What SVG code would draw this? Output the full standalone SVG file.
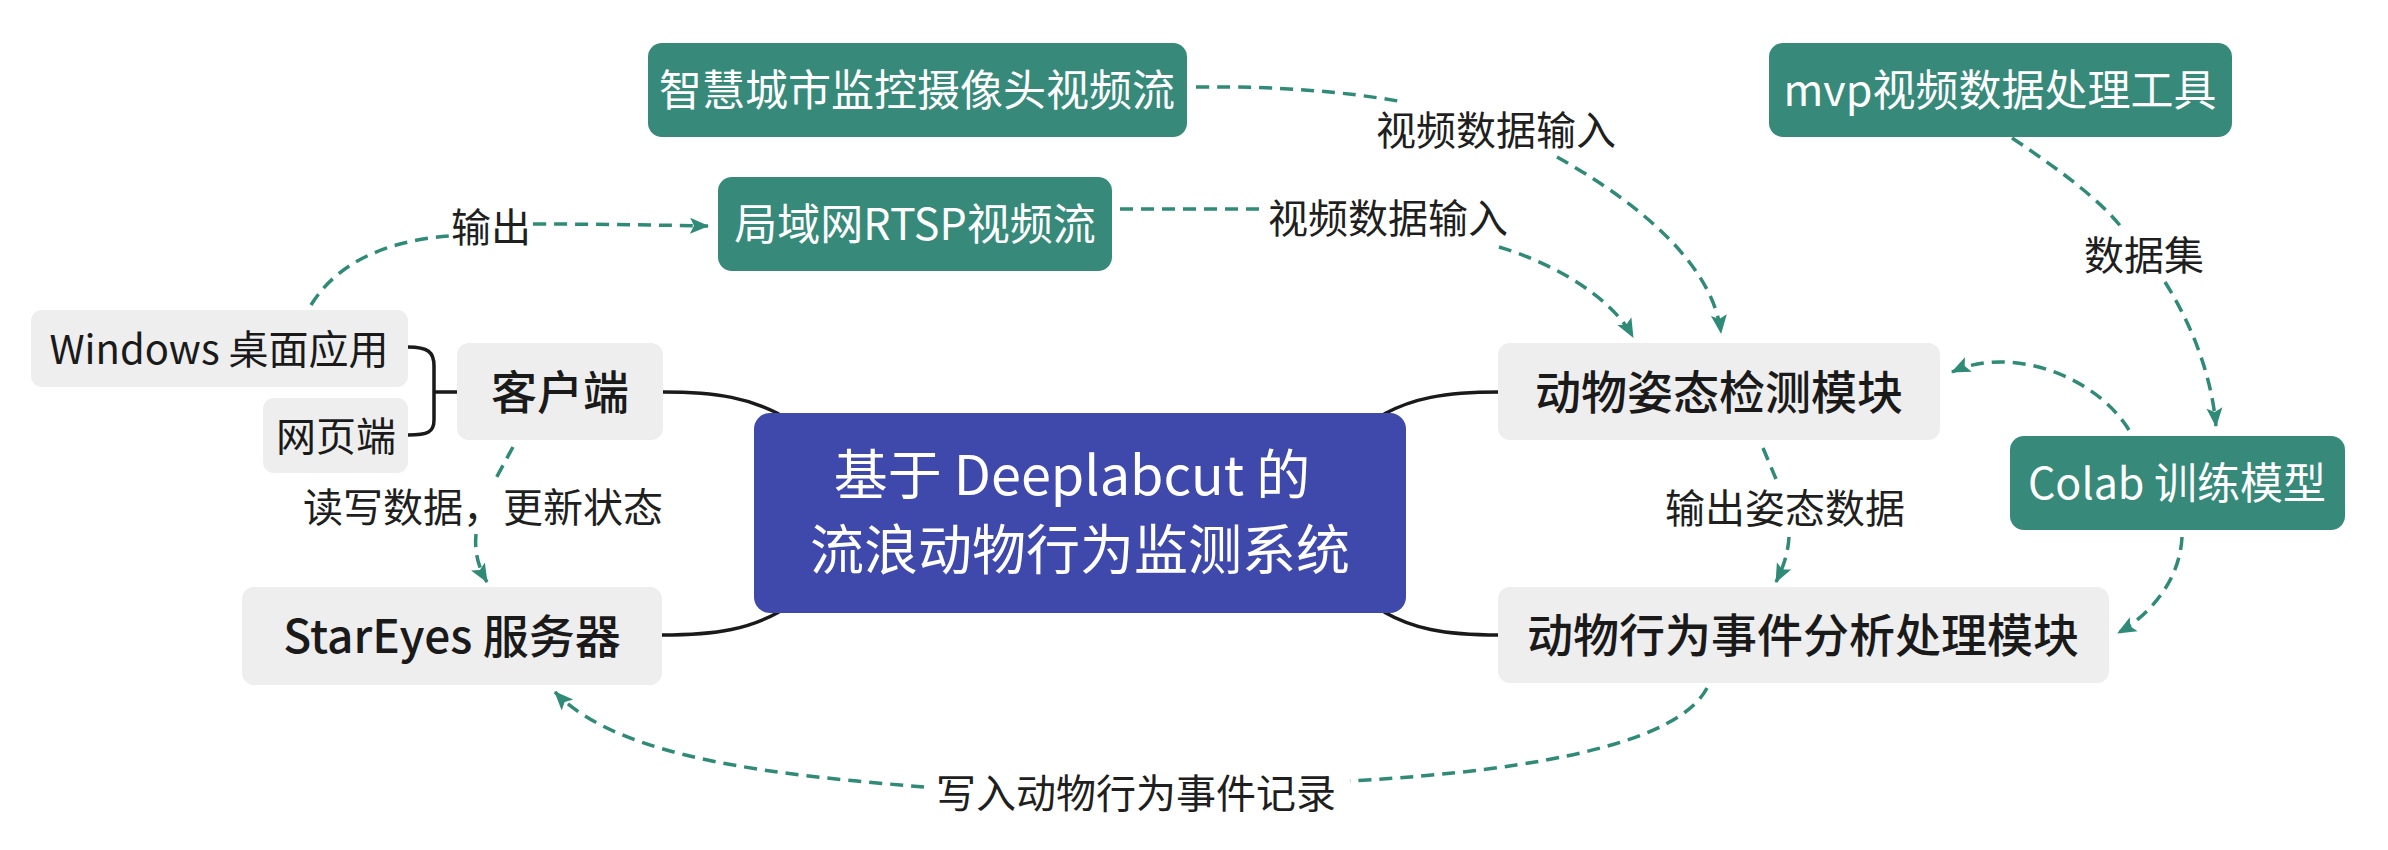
<svg xmlns="http://www.w3.org/2000/svg" width="2388" height="850" viewBox="0 0 2388 850">
<style>
.t{font-family:"Noto Sans CJK SC","Noto Sans",sans-serif;text-anchor:middle}
.green rect{fill:#378a7a}
.green text{fill:#ffffff;font-size:43px}
.gray rect{fill:#eeeeee}
.gray text{fill:#1a1a1a;font-size:46px;font-weight:500}
.sub rect{fill:#eeeeee}
.sub text{fill:#1a1a1a;font-size:40px}
.lbl{fill:#1f1f1f;font-size:40px}
.solid{fill:none;stroke:#1a1a1a;stroke-width:3.5}
.dash{fill:none;stroke:#2f8a77;stroke-width:3.5;stroke-dasharray:13 8}
</style>
<defs>
<marker id="ah" markerUnits="userSpaceOnUse" markerWidth="20" markerHeight="18" viewBox="0 0 20 18" refX="18" refY="9" orient="auto">
<path d="M0,1 L19,9 L0,17 L4,9 Z" fill="#2f8a77"/>
</marker>
</defs>
<rect width="2388" height="850" fill="#ffffff"/>

<g id="connectors">
<path class="solid" d="M663,392 C720,392 750,399 779,414"/>
<path class="solid" d="M662,635 C720,635 750,628 779,612"/>
<path class="solid" d="M1384,414 C1412,399 1442,392 1499,392"/>
<path class="solid" d="M1384,612 C1412,628 1442,635 1499,635"/>
<path class="solid" d="M408,347 C428,347 434,352 434,366 L434,420 C434,432 428,435 408,435 M434,392 L457,392"/>
<path class="dash" d="M311,305 C340,258 395,240 449,236"/>
<path class="dash" d="M533,224 C600,224 650,225 708,226" marker-end="url(#ah)"/>
<path class="dash" d="M1196,87 C1280,86 1345,92 1398,101"/>
<path class="dash" d="M1557,157 C1625,195 1712,258 1721,333" marker-end="url(#ah)"/>
<path class="dash" d="M1120,209 L1262,209"/>
<path class="dash" d="M1499,247 C1550,262 1610,295 1633,337" marker-end="url(#ah)"/>
<path class="dash" d="M2012,138 C2060,170 2100,200 2122,228"/>
<path class="dash" d="M2165,282 C2195,330 2212,380 2216,426" marker-end="url(#ah)"/>
<path class="dash" d="M2129,430 C2095,375 2010,345 1952,372" marker-end="url(#ah)"/>
<path class="dash" d="M1763,448 L1776,479"/>
<path class="dash" d="M1789,537 C1788,555 1782,570 1776,582" marker-end="url(#ah)"/>
<path class="dash" d="M2182,537 C2180,580 2150,615 2118,633" marker-end="url(#ah)"/>
<path class="dash" d="M1707,688 C1680,740 1550,770 1350,781"/>
<path class="dash" d="M924,787 C780,775 620,760 555,692" marker-end="url(#ah)"/>
<path class="dash" d="M513,447 L494,482"/>
<path class="dash" d="M476,534 C474,555 480,570 487,582" marker-end="url(#ah)"/>
</g>

<g id="labels" class="t">
<text class="lbl t" x="491" y="242">输出</text>
<text class="lbl t" x="1496" y="145">视频数据输入</text>
<text class="lbl t" x="1388" y="233">视频数据输入</text>
<text class="lbl t" x="2144" y="270">数据集</text>
<text class="lbl t" x="1785" y="523">输出姿态数据</text>
<text class="lbl t" x="483" y="522">读写数据，更新状态</text>
<text class="lbl t" x="1136" y="808">写入动物行为事件记录</text>
</g>

<g id="center">
<rect x="754" y="413" width="652" height="200" rx="16" fill="#3f49ab"/>
<text class="t" x="1072" y="495" fill="#ffffff" font-size="54">基于 Deeplabcut 的</text>
<text class="t" x="1080" y="570" fill="#ffffff" font-size="54">流浪动物行为监测系统</text>
</g>

<g id="node-camera" class="green">
<rect x="648" y="43" width="539" height="94" rx="14"/>
<text class="t" x="917" y="106">智慧城市监控摄像头视频流</text>
</g>
<g id="node-rtsp" class="green">
<rect x="718" y="177" width="394" height="94" rx="14"/>
<text class="t" x="915" y="240">局域网RTSP视频流</text>
</g>
<g id="node-mvp" class="green">
<rect x="1769" y="43" width="463" height="94" rx="14"/>
<text class="t" x="2000" y="106">mvp视频数据处理工具</text>
</g>
<g id="node-colab" class="green">
<rect x="2010" y="436" width="335" height="94" rx="14"/>
<text class="t" x="2177" y="499">Colab 训练模型</text>
</g>

<g id="node-pose" class="gray">
<rect x="1498" y="343" width="442" height="97" rx="12"/>
<text class="t" x="1719" y="409">动物姿态检测模块</text>
</g>
<g id="node-behavior" class="gray">
<rect x="1498" y="587" width="611" height="96" rx="12"/>
<text class="t" x="1803" y="652">动物行为事件分析处理模块</text>
</g>
<g id="node-client" class="gray">
<rect x="457" y="343" width="206" height="97" rx="12"/>
<text class="t" x="560" y="409">客户端</text>
</g>
<g id="node-server" class="gray">
<rect x="242" y="587" width="420" height="98" rx="12"/>
<text class="t" x="452" y="653">StarEyes 服务器</text>
</g>

<g id="node-windows" class="sub">
<rect x="31" y="310" width="377" height="77" rx="11"/>
<text class="t" x="219" y="364">Windows 桌面应用</text>
</g>
<g id="node-web" class="sub">
<rect x="263" y="398" width="145" height="75" rx="11"/>
<text class="t" x="336" y="451">网页端</text>
</g>
</svg>
